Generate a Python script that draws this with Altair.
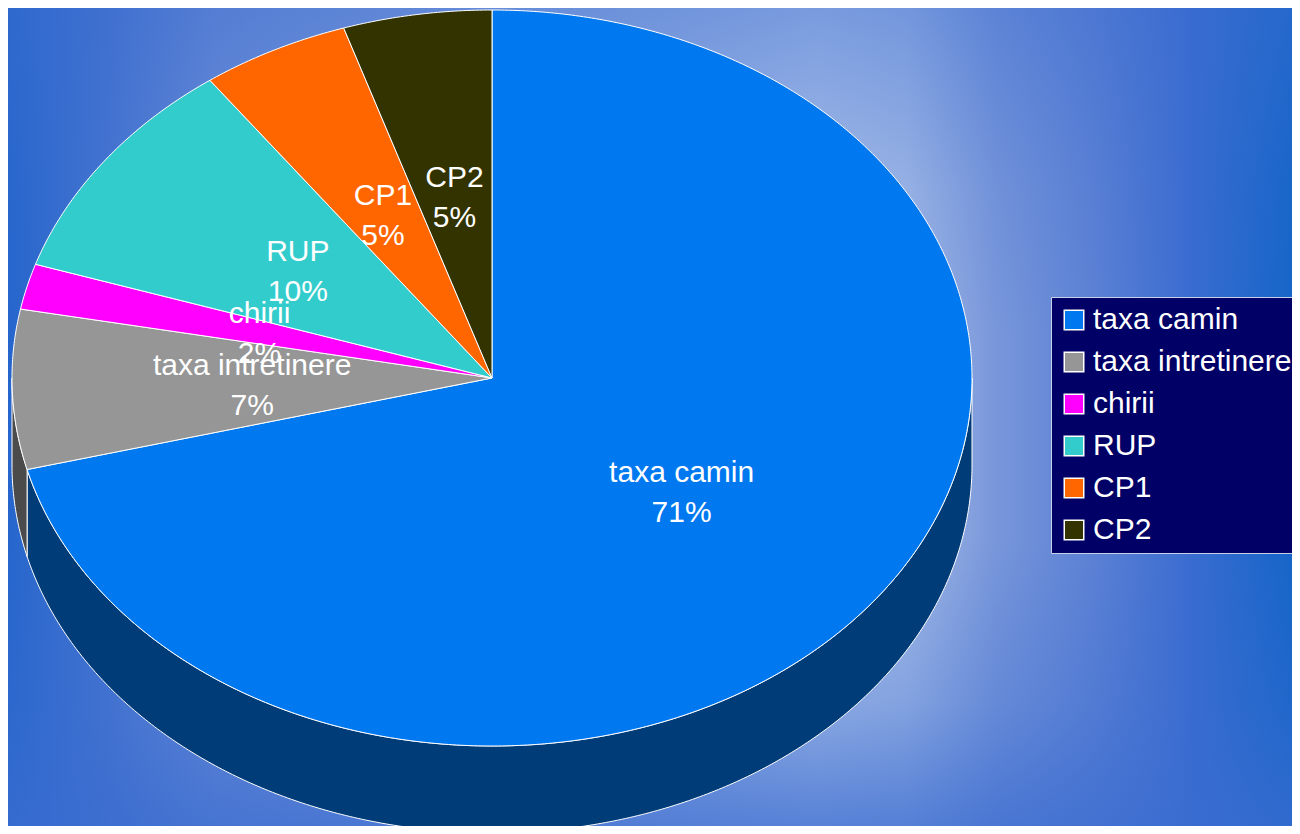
import numpy as np
import pandas as pd
import altair as alt

# ---- data ----
categories = ["taxa camin", "taxa intretinere", "chirii", "RUP", "CP1", "CP2"]
values = [71, 7, 2, 10, 5, 5]

# ---- styles ----
top_colors = ["#0078F0", "#969696", "#FF00FF", "#33CCCC", "#FF6600", "#333300"]
side_colors = ["#003C78", "#4B4B4B", "#800080", "#1A6666", "#803300", "#1A1A00"]
FONT = "Liberation Sans"

W, H = 1284, 818
DEPTH = 0.2364                      # wall height, in vertical-radius units
X_DOMAIN = [-1.008333, 1.666667]    # ellipse units across the view
Y_DOMAIN = [-1.217391, 1.005435]

# ---- geometry derived from the values (3-D pie, tilted ellipse) ----
frac = np.array(values, dtype=float) / sum(values)
ends = np.cumsum(frac)
starts = ends - frac
step = np.radians(0.5)

top_rows, side_rows, label_rows = [], [], []
for i, (cat, v) in enumerate(zip(categories, values)):
    a, b = 2 * np.pi * starts[i], 2 * np.pi * ends[i]
    n = max(3, int(np.ceil((b - a) / step)))
    ts = np.linspace(a, b, n + 1)
    k = 0
    top_rows.append(dict(category=cat, x=0.0, y=0.0, ord=k)); k += 1
    for t in ts:
        top_rows.append(dict(category=cat, x=float(np.sin(t)), y=float(np.cos(t)), ord=k)); k += 1
    top_rows.append(dict(category=cat, x=0.0, y=0.0, ord=k))

    lo, hi = max(a, np.pi / 2), min(b, 1.5 * np.pi)
    if hi > lo:
        m = max(3, int(np.ceil((hi - lo) / step)))
        ss = np.linspace(lo, hi, m + 1)
        k = 0
        for t in ss:
            side_rows.append(dict(category=cat, x=float(np.sin(t)), y=float(np.cos(t)), ord=k)); k += 1
        for t in ss[::-1]:
            side_rows.append(dict(category=cat, x=float(np.sin(t)), y=float(np.cos(t) - DEPTH), ord=k)); k += 1
        side_rows.append(dict(category=cat, x=float(np.sin(ss[0])), y=float(np.cos(ss[0])), ord=k))

    mid = (a + b) / 2
    label_rows.append(dict(category=cat, x=float(0.5 * np.sin(mid)), y=float(0.5 * np.cos(mid)),
                           label=f"{cat}\n{v}%"))

top_df = pd.DataFrame(top_rows)
side_df = pd.DataFrame(side_rows)
label_df = pd.DataFrame(label_rows)

xs = alt.Scale(domain=X_DOMAIN, nice=False, zero=False)
ys = alt.Scale(domain=Y_DOMAIN, nice=False, zero=False)
X = alt.X("x:Q", scale=xs, axis=None)
Y = alt.Y("y:Q", scale=ys, axis=None)

# ---- background ----
base_grad = {
    "gradient": "linear", "x1": 0, "y1": 0, "x2": 1, "y2": 0,
    "stops": [
        {"offset": 0.00, "color": "#2666cc"},
        {"offset": 0.08, "color": "#4574d0"},
        {"offset": 0.16, "color": "#6a8cd6"},
        {"offset": 0.45, "color": "#93aee2"},
        {"offset": 0.63, "color": "#adc2ea"},
        {"offset": 0.70, "color": "#a2b9e6"},
        {"offset": 0.77, "color": "#7896da"},
        {"offset": 0.85, "color": "#5a80d4"},
        {"offset": 0.92, "color": "#3a6cd0"},
        {"offset": 1.00, "color": "#1565c8"},
    ],
}
over_grad = {
    "gradient": "linear", "x1": 0, "y1": 0, "x2": 0, "y2": 1,
    "stops": [
        {"offset": 0.00, "color": "rgba(58,108,208,0.45)"},
        {"offset": 0.22, "color": "rgba(58,108,208,0.12)"},
        {"offset": 0.40, "color": "rgba(58,108,208,0)"},
        {"offset": 0.65, "color": "rgba(58,108,208,0)"},
        {"offset": 0.85, "color": "rgba(58,108,208,0.3)"},
        {"offset": 1.00, "color": "rgba(58,108,208,0.75)"},
    ],
}
one = pd.DataFrame({"k": [0]})
bg = alt.Chart(one).mark_rect(fill=base_grad).encode(
    x=alt.value(0), x2=alt.value(W), y=alt.value(0), y2=alt.value(H))
overlay = alt.Chart(one).mark_rect(fill=over_grad).encode(
    x=alt.value(0), x2=alt.value(W), y=alt.value(0), y2=alt.value(H))

# ---- pie walls and top ----
side = alt.Chart(side_df).mark_line(stroke="white", strokeWidth=1, strokeJoin="round").encode(
    x=X, y=Y, order=alt.Order("ord:Q"),
    fill=alt.Fill("category:N", scale=alt.Scale(domain=categories, range=side_colors), legend=None),
)

legend = alt.Legend(
    orient="none", legendX=1043, legendY=289, title=None,
    fillColor="#000066", strokeColor="#c8d0e8", padding=8,
    symbolType="square", symbolSize=380, symbolStrokeColor="white", symbolStrokeWidth=1.5,
    symbolOpacity=1,
    labelFont=FONT, labelFontSize=30, labelColor="white", labelOffset=4, labelLimit=400,
    rowPadding=12,
)
top = alt.Chart(top_df).mark_line(stroke="white", strokeWidth=1, strokeJoin="round").encode(
    x=X, y=Y, order=alt.Order("ord:Q"),
    fill=alt.Fill("category:N", scale=alt.Scale(domain=categories, range=top_colors), legend=legend),
)

labels = alt.Chart(label_df).mark_text(
    font=FONT, fontSize=30, color="white", lineBreak="\n", lineHeight=40,
    align="center", baseline="middle", dy=-18,
).encode(x=X, y=Y, text="label:N")

chart = (
    alt.layer(bg, overlay, side, top, labels)
    .resolve_scale(fill="independent")
    .properties(width=W, height=H, padding=0, autosize=alt.AutoSizeParams(type="none"))
    .configure_view(stroke=None)
)

chart.save("out.html", embed_options={"renderer": "svg", "actions": False})
